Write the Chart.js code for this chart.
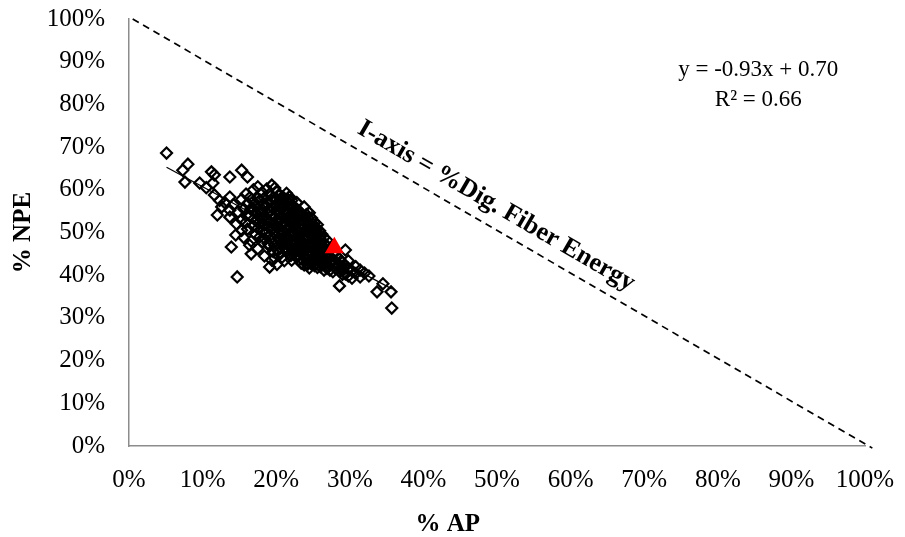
<!DOCTYPE html>
<html>
<head>
<meta charset="utf-8">
<script src="https://cdn.jsdelivr.net/npm/chart.js@4.4.1/dist/chart.umd.min.js"></script>
<style>
  html, body { margin:0; padding:0; background:#fff; }
  #wrap { width:905px; height:537px; }
</style>
</head>
<body>
<div id="wrap"><canvas id="c" width="905" height="537"></canvas></div>
<script>
// % AP vs % NPE, one point per herd
const herdData = [
  [5.1,68.6],[7.3,64.6],[7.6,61.8],[8.0,66.0],[9.6,61.6],[10.5,60.5],
  [11.2,64.2],[11.6,63.5],[11.4,61.6],[11.6,58.8],[12.0,54.1],[12.6,56.0],[12.3,57.5],[13.0,57.0],
  [13.7,63.0],[13.7,58.3],[13.7,53.6],[13.7,55.2],[13.9,46.6],[14.2,56.5],[14.5,49.4],[14.7,39.6],[14.8,54.8],[14.6,52.0],
  [15.3,64.6],[15.3,57.8],[15.3,53.0],[15.3,50.5],[15.6,55.5],[15.6,48.8],[15.9,59.0],[15.9,52.4],[15.9,54.0],
  [16.1,63.0],[16.1,56.8],[16.1,50.8],[16.4,58.2],[16.4,53.8],[16.4,47.0],[16.6,45.0],[16.6,48.0],[16.6,55.6],
  [16.9,51.5],[16.9,57.3],[16.9,60.0],[17.0,55.4],[17.2,54.6],[17.2,49.5],[17.2,52.8],[17.2,56.2],
  [17.5,60.7],[17.5,58.0],[17.5,51.0],[17.5,46.2],[17.6,52.2],[17.8,53.5],[17.8,55.0],[17.8,49.0],[17.8,57.6],
  [18.1,50.2],[18.1,52.2],[18.1,54.8],[18.1,59.4],[18.1,47.8],[18.2,56.6],[18.2,53.4],
  [18.4,58.1],[18.4,55.8],[18.4,44.5],[18.4,51.7],[18.4,48.6],
  [18.7,53.2],[18.7,56.9],[18.7,50.0],[18.7,60.2],[18.9,54.4],[18.9,51.4],[18.9,47.4],
  [19.1,41.9],[19.1,59.0],[19.1,52.5],[19.1,55.2],[19.1,49.2],[19.1,46.8],
  [19.4,61.1],[19.4,57.5],[19.4,54.0],[19.4,50.8],[19.4,43.5],[19.4,48.0],
  [19.6,58.2],[19.6,55.6],[19.6,51.0],[19.6,45.5],
  [19.8,44.0],[19.8,60.4],[19.8,56.3],[19.8,52.0],[19.8,53.6],[19.8,49.7],[19.8,47.0],
  [20.1,59.5],[20.1,55.0],[20.1,51.2],[20.1,46.0],[20.1,57.8],[20.1,53.0],[20.1,42.5],
  [20.4,58.6],[20.4,56.0],[20.4,52.6],[20.4,49.8],[20.4,48.3],[20.4,54.4],[20.4,45.2],
  [20.6,57.2],[20.6,53.2],[20.6,49.2],[20.6,46.4],
  [20.8,58.3],[20.8,55.6],[20.8,53.8],[20.8,50.5],[20.8,47.5],[20.8,51.8],[20.8,57.0],[20.8,44.2],
  [21.0,55.0],[21.0,50.2],[21.0,47.8],
  [21.1,58.0],[21.1,54.6],[21.1,52.0],[21.1,49.0],[21.1,46.3],[21.1,56.4],[21.1,43.4],
  [21.4,57.3],[21.4,55.2],[21.4,53.2],[21.4,50.6],[21.4,48.2],[21.4,45.5],[21.4,59.2],
  [21.6,57.8],[21.6,54.6],[21.6,51.0],[21.6,48.6],[21.6,46.0],
  [21.8,56.8],[21.8,54.0],[21.8,51.5],[21.8,49.4],[21.8,47.0],[21.8,44.8],[21.8,58.4],[21.8,52.8],
  [22.0,56.2],[22.0,52.2],[22.0,49.0],[22.0,44.6],
  [22.1,57.5],[22.1,55.4],[22.1,53.0],[22.1,50.2],[22.1,48.0],[22.1,46.2],[22.1,43.5],
  [22.4,56.0],[22.4,54.2],[22.4,51.8],[22.4,49.5],[22.4,47.3],[22.4,45.0],[22.4,52.6],
  [22.6,55.0],[22.6,52.0],[22.6,49.8],[22.6,47.6],[22.6,45.6],
  [22.8,55.5],[22.8,53.4],[22.8,50.8],[22.8,48.6],[22.8,46.5],[22.8,44.2],[22.8,57.0],
  [23.0,54.2],[23.0,51.4],[23.0,49.2],[23.0,47.0],[23.0,44.6],
  [23.1,55.0],[23.1,52.6],[23.1,50.2],[23.1,48.0],[23.1,45.8],[23.1,43.6],[23.1,53.8],
  [23.4,54.5],[23.4,51.8],[23.4,49.6],[23.4,47.4],[23.4,45.2],[23.4,42.8],[23.4,50.8],
  [23.6,52.8],[23.6,50.0],[23.6,47.8],[23.6,45.8],[23.6,43.6],
  [23.8,56.0],[23.8,53.6],[23.8,51.2],[23.8,48.8],[23.8,46.6],[23.8,44.5],[23.8,42.4],
  [24.1,52.8],[24.1,50.4],[24.1,48.3],[24.1,46.0],[24.1,43.8],[24.1,54.2],
  [24.3,53.4],[24.3,51.0],[24.3,49.0],[24.3,46.8],[24.3,44.6],[24.3,42.6],
  [24.5,41.7],[24.5,52.0],[24.5,49.7],[24.5,47.6],[24.5,45.4],[24.5,43.2],[24.5,54.6],
  [24.8,51.4],[24.8,49.0],[24.8,46.8],[24.8,44.8],[24.8,42.6],[24.8,53.4],
  [25.0,52.0],[25.0,49.8],[25.0,47.4],[25.0,45.2],[25.0,43.2],
  [25.2,50.6],[25.2,48.4],[25.2,46.2],[25.2,44.2],[25.2,42.2],[25.2,52.4],
  [25.4,51.0],[25.4,49.0],[25.4,46.8],[25.4,44.8],[25.4,42.8],
  [25.6,51.8],[25.6,49.8],[25.6,47.6],[25.6,45.6],[25.6,43.6],[25.6,41.8],
  [25.9,48.8],[25.9,46.8],[25.9,45.0],[25.9,43.0],[25.9,50.4],
  [26.0,49.2],[26.0,47.4],[26.0,44.0],[26.0,42.0],
  [26.2,48.0],[26.2,46.2],[26.2,44.4],[26.2,42.6],[26.2,49.6],
  [26.5,41.2],[26.5,47.5],[26.5,45.6],[26.5,43.8],[26.5,48.8],
  [26.7,47.0],[26.7,44.6],[26.7,42.4],
  [26.9,46.8],[26.9,45.0],[26.9,43.3],[26.9,41.6],[26.9,48.2],
  [27.1,44.0],[27.1,42.0],[27.5,43.2],[27.9,42.8],[28.3,42.2],[28.8,41.4],
  [27.3,46.0],[27.3,44.4],[27.3,42.8],[27.3,41.2],[27.7,45.2],[27.7,43.6],[27.7,42.2],[27.7,40.8],
  [28.1,44.6],[28.1,43.0],[28.1,41.5],[28.6,37.5],[28.6,43.8],[28.6,42.4],[28.6,40.9],
  [29.0,43.0],[29.0,41.6],[29.0,40.2],[29.4,45.9],[29.4,42.2],[29.4,40.3],[29.8,41.6],[29.8,39.8],[29.8,43.4],
  [30.3,39.3],[30.3,41.0],[30.8,40.4],[30.8,42.0],[31.4,39.6],[31.4,41.2],[32.0,40.5],[32.6,39.8],
  [33.7,36.1],[34.5,38.0],[35.6,36.1],[35.7,32.3]
];
// highlighted herd (red triangle)
const highlightPoint = [[27.9, 46.4]];
// ends of the fitted trend line as drawn
const trendEnds = [[5.1, 65.3], [35.7, 36.8]];
// I-axis reference line
const iAxisEnds = [[0.5, 100], [101, -0.5]];
const tickValues = [0, 10, 20, 30, 40, 50, 60, 70, 80, 90, 100];
const eqLines = ['y = -0.93x + 0.70', 'R\u00B2 = 0.66'];
const iAxisLabel = 'I-axis = %Dig. Fiber Energy';

const toXY = arr => arr.map(p => ({ x: p[0], y: p[1] }));
const SERIF = '"Liberation Serif", "Times New Roman", serif';
const AXIS_GRAY = '#8c8c8c';

const annotations = {
  id: 'annotations',
  afterDatasetsDraw(chart) {
    const { ctx, scales: { x, y }, chartArea } = chart;
    ctx.save();
    ctx.fillStyle = '#000';
    ctx.textAlign = 'center';
    ctx.textBaseline = 'middle';
    // regression equation
    ctx.font = '23px ' + SERIF;
    ctx.fillText(eqLines[0], x.getPixelForValue(85.5), y.getPixelForValue(88.1));
    ctx.fillText(eqLines[1], x.getPixelForValue(85.5), y.getPixelForValue(81.0));
    // label along the dashed line
    const ang = Math.atan2(y.getPixelForValue(0) - y.getPixelForValue(100),
                           x.getPixelForValue(100) - x.getPixelForValue(0));
    ctx.save();
    ctx.translate(x.getPixelForValue(49.9), y.getPixelForValue(56.2));
    ctx.rotate(ang);
    ctx.font = 'bold 26px ' + SERIF;
    ctx.fillText(iAxisLabel, 0, 0);
    ctx.restore();
    // x axis title (sits left of centre in the original)
    ctx.font = 'bold 25px ' + SERIF;
    ctx.fillText('% AP', x.getPixelForValue(43.3), chartArea.bottom + 79);
    ctx.restore();
  }
};

new Chart(document.getElementById('c').getContext('2d'), {
  type: 'scatter',
  data: {
    datasets: [
      { label: 'highlight', data: toXY(highlightPoint), order: 0,
        pointStyle: 'triangle', pointRadius: 11, pointHoverRadius: 11,
        backgroundColor: '#ff0000', borderColor: '#ff0000', borderWidth: 0 },
      { label: 'trend', data: toXY(trendEnds), order: 1, type: 'line',
        showLine: true, borderColor: '#000', borderWidth: 1.2, pointRadius: 0, fill: false },
      { label: 'herds', data: toXY(herdData), order: 2,
        pointStyle: 'rectRot', pointRadius: 5.5, pointHoverRadius: 5.5,
        backgroundColor: 'rgba(0,0,0,0)', borderColor: '#000', borderWidth: 2.2 },
      { label: 'I-axis', data: toXY(iAxisEnds), order: 3, type: 'line',
        showLine: true, borderColor: '#000', borderWidth: 1.7, borderDash: [7, 5],
        pointRadius: 0, fill: false, clip: false }
    ]
  },
  options: {
    responsive: false,
    animation: false,
    layout: { padding: { top: 19, right: 40, left: 0, bottom: 0 } },
    plugins: { legend: { display: false }, tooltip: { enabled: false } },
    scales: {
      x: {
        type: 'linear', min: 0, max: 100,
        afterBuildTicks: s => { s.ticks = tickValues.map(v => ({ value: v })); },
        afterFit: s => { s.height = 91; s.paddingLeft = 0; s.paddingRight = 0; },
        grid: { display: false, drawTicks: false },
        border: { display: true, color: AXIS_GRAY, width: 1.5 },
        ticks: { color: '#000', padding: 19, maxRotation: 0, font: { family: SERIF, size: 25 },
                 callback: v => v + '%' }
      },
      y: {
        type: 'linear', min: 0, max: 100,
        afterBuildTicks: s => { s.ticks = tickValues.map(v => ({ value: v })); },
        afterFit: s => { s.width = 129; s.paddingTop = 0; s.paddingBottom = 0; },
        grid: { display: false, drawTicks: false },
        border: { display: true, color: AXIS_GRAY, width: 1.5 },
        title: { display: true, text: '% NPE', color: '#000', padding: { top: 9, bottom: 0 },
                 font: { family: SERIF, size: 25, weight: 'bold' } },
        ticks: { color: '#000', padding: 24, font: { family: SERIF, size: 25 },
                 callback: v => v + '%' }
      }
    }
  },
  plugins: [annotations]
});
</script>
</body>
</html>
